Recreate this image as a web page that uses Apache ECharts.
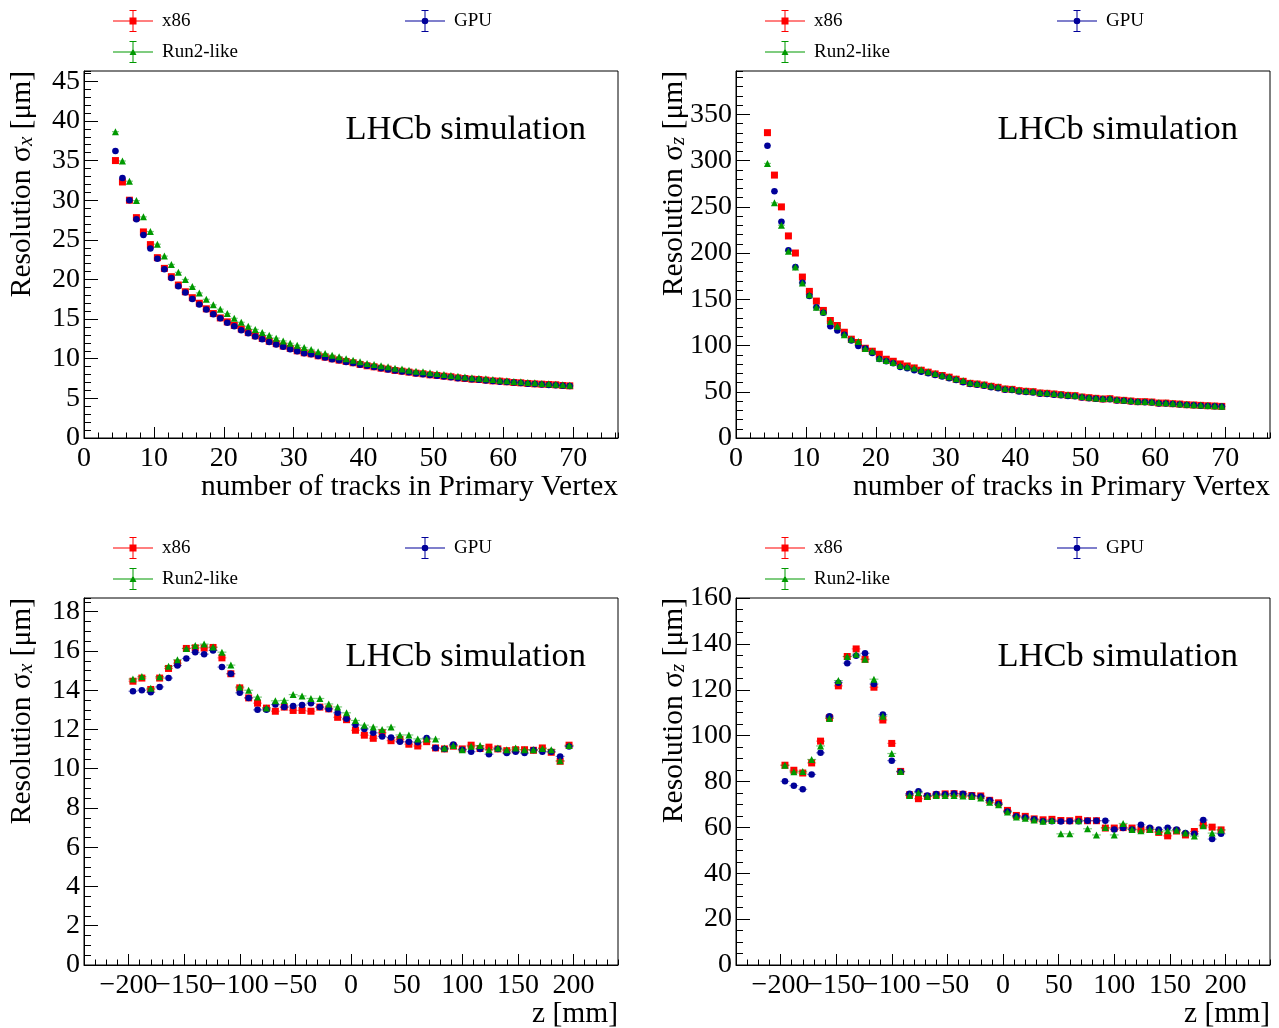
<!DOCTYPE html>
<html>
<head>
<meta charset="utf-8">
<script src="https://cdn.jsdelivr.net/npm/echarts@6/dist/echarts.min.js"></script>
<style>html,body{margin:0;padding:0;background:#fff}#chart{width:1279px;height:1028px}</style>
</head>
<body>
<div id="chart"></div>
<script>
// ---------- data ----------
const nTracks = [4.5,5.5,6.5,7.5,8.5,9.5,10.5,11.5,12.5,13.5,14.5,15.5,16.5,17.5,18.5,19.5,20.5,21.5,22.5,23.5,24.5,25.5,26.5,27.5,28.5,29.5,30.5,31.5,32.5,33.5,34.5,35.5,36.5,37.5,38.5,39.5,40.5,41.5,42.5,43.5,44.5,45.5,46.5,47.5,48.5,49.5,50.5,51.5,52.5,53.5,54.5,55.5,56.5,57.5,58.5,59.5,60.5,61.5,62.5,63.5,64.5,65.5,66.5,67.5,68.5,69.5];
const zBins = [-196,-188,-180,-172,-164,-156,-148,-140,-132,-124,-116,-108,-100,-92,-84,-76,-68,-60,-52,-44,-36,-28,-20,-12,-4,4,12,20,28,36,44,52,60,68,76,84,92,100,108,116,124,132,140,148,156,164,172,180,188,196];

// sigma_x vs number of tracks
const x86SigmaXvsN = [35.0,32.3,30.0,27.8,26.0,24.4,22.75,21.4,20.35,19.3,18.45,17.7,17.0,16.3,15.7,15.15,14.65,14.2,13.75,13.3,12.9,12.55,12.2,11.9,11.6,11.3,11.0,10.75,10.62,10.37,10.2,9.99,9.82,9.66,9.49,9.28,9.11,8.98,8.81,8.69,8.52,8.43,8.31,8.18,8.1,7.97,7.89,7.8,7.72,7.59,7.51,7.42,7.38,7.3,7.21,7.17,7.09,7.0,6.96,6.88,6.83,6.79,6.75,6.71,6.62,6.58];
const gpuSigmaXvsN = [36.2,32.8,30.0,27.6,25.6,23.9,22.6,21.3,20.2,19.15,18.35,17.55,16.85,16.2,15.6,15.1,14.55,14.1,13.6,13.2,12.8,12.45,12.1,11.8,11.5,11.2,10.95,10.7,10.55,10.35,10.15,9.95,9.8,9.6,9.45,9.25,9.1,8.95,8.8,8.65,8.5,8.4,8.3,8.15,8.05,7.95,7.85,7.75,7.65,7.55,7.5,7.4,7.35,7.25,7.2,7.1,7.05,7.0,6.95,6.85,6.8,6.75,6.7,6.65,6.6,6.55];
const run2SigmaXvsN = [38.65,34.95,32.4,29.95,27.9,26.05,24.45,22.95,21.9,20.9,20.0,19.1,18.3,17.5,16.8,16.25,15.7,15.1,14.6,14.1,13.7,13.3,12.95,12.6,12.25,11.95,11.7,11.42,11.17,10.88,10.66,10.45,10.24,10.0,9.82,9.61,9.4,9.28,9.11,8.98,8.81,8.69,8.56,8.43,8.35,8.22,8.14,8.01,7.89,7.8,7.68,7.59,7.55,7.47,7.38,7.3,7.21,7.13,7.09,7.0,6.96,6.88,6.83,6.79,6.71,6.67];

// sigma_z vs number of tracks
const x86SigmaZvsN = [330.3,284.4,250.0,218.6,200.1,174.1,158.6,148.1,138.0,127.1,121.7,114.4,106.9,103.3,97.1,93.9,90.6,85.2,83.0,80.1,77.9,75.8,73.3,71.2,69.3,67.6,65.8,63.6,61.3,59.1,58.4,57.3,55.9,54.8,53.0,52.6,51.2,50.5,50.1,48.7,48.3,47.6,46.9,46.1,45.8,44.3,43.6,42.9,42.2,42.5,41.1,40.7,40.0,39.3,39.3,38.9,37.8,37.8,37.1,36.7,36.0,35.7,35.3,34.9,34.6,34.2];
const gpuSigmaZvsN = [316.2,267.0,233.8,203.0,184.9,168.0,153.5,141.5,135.4,121.0,116.2,111.6,105.4,99.6,96.7,92.0,85.5,83.0,80.8,76.9,75.4,73.4,71.8,70.0,68.2,66.5,64.6,62.8,60.4,58.3,57.5,56.4,55.0,53.9,52.3,51.8,50.4,49.8,49.3,48.0,47.6,46.9,46.2,45.4,45.1,43.7,43.1,42.4,41.8,41.9,40.6,40.2,39.6,38.9,38.8,38.4,37.4,37.3,36.7,36.3,35.7,35.4,35.0,34.6,34.3,34.0];
const run2SigmaZvsN = [297.0,254.4,230.2,201.9,184.9,167.6,155.0,141.5,136.7,126.0,121.0,111.6,106.9,104.3,96.7,93.9,86.2,83.8,81.6,78.3,77.2,75.8,73.8,71.8,69.9,68.0,66.3,64.2,62.1,59.9,59.0,58.0,56.6,55.4,53.6,53.1,51.8,51.1,50.6,49.3,48.9,48.1,47.4,46.7,46.2,44.9,44.1,43.4,42.8,42.9,41.6,41.2,40.5,39.8,39.6,39.2,38.3,38.2,37.5,37.0,36.4,36.0,35.6,35.2,34.8,34.4];

// sigma_x vs z
const x86SigmaXvsZ = [14.46,14.62,14.04,14.62,15.11,15.38,16.13,16.16,16.15,16.18,15.65,14.84,14.12,13.61,13.34,13.09,12.93,13.14,12.97,12.97,12.93,13.14,13.05,12.62,12.5,11.96,11.71,11.55,11.83,11.43,11.49,11.25,11.16,11.38,11.06,11.01,11.15,11.01,11.2,11.03,11.1,11.01,10.92,10.97,10.97,10.94,11.06,10.84,10.38,11.2];
const gpuSigmaXvsZ = [13.95,14.0,13.9,14.17,14.62,15.26,15.62,15.93,15.84,16.03,15.18,14.84,13.87,13.61,13.0,13.0,13.27,13.14,13.2,13.25,13.34,13.14,13.05,12.85,12.55,12.24,12.03,11.83,11.64,11.59,11.38,11.37,11.35,11.57,11.06,11.01,11.23,10.97,10.87,11.01,10.74,11.01,10.8,10.87,10.8,10.96,10.87,10.87,10.63,11.13];
const run2SigmaXvsZ = [14.57,14.7,14.1,14.69,15.22,15.55,16.13,16.28,16.35,16.2,15.94,15.28,14.17,14.0,13.65,13.1,13.46,13.48,13.78,13.71,13.58,13.58,13.3,13.15,12.85,12.46,12.22,12.13,12.0,12.13,11.72,11.72,11.52,11.52,11.52,11.06,11.18,10.97,11.15,11.18,10.97,11.06,10.97,11.06,10.97,10.97,11.03,10.97,10.41,11.18];

// sigma_z vs z
const x86SigmaZvsZ = [87.1,84.9,83.7,88.1,97.6,107.8,121.7,134.5,137.8,133.3,121.1,106.8,96.6,84.4,74.2,72.5,73.5,74.2,74.6,74.7,74.4,73.9,73.7,71.8,70.7,67.4,65.2,64.8,63.7,63.3,63.5,63.0,62.9,63.5,62.9,62.9,59.7,59.7,59.9,59.7,59.1,59.1,57.8,56.3,58.4,56.7,58.2,61.0,60.1,58.9];
const gpuSigmaZvsZ = [80.1,78.2,76.6,83.1,92.5,108.5,123.1,131.6,134.8,135.9,122.5,109.2,89.1,84.2,74.7,75.7,73.9,74.6,74.4,74.8,74.7,73.9,73.5,71.8,70.2,66.9,64.9,64.3,63.5,62.7,62.7,62.6,62.7,62.7,62.9,62.9,62.9,59.1,59.7,59.1,61.1,59.8,59.1,59.8,59.1,57.5,57.2,63.2,54.9,57.2];
const run2SigmaZvsZ = [87.1,84.2,84.4,89.6,95.5,107.5,124.0,134.5,135.5,133.3,124.6,108.5,92.2,84.4,73.9,75.1,73.5,73.9,73.9,73.9,73.7,73.5,72.8,71.0,69.9,66.7,64.5,64.0,63.2,62.7,63.0,57.2,57.2,62.9,59.4,56.7,59.9,56.7,61.7,59.1,58.5,59.1,58.2,58.5,58.8,57.6,56.2,60.7,57.5,58.9];

const seriesNames = ['x86', 'GPU', 'Run2-like'];
const binHalfWidthTracks = 0.5;
const binHalfWidthZ = 4;

// ---------- style ----------
const FONT = '"Liberation Serif", "Times New Roman", Times, serif';
const markerColors = ['#ff0000', '#000099', '#009900'];
const barColors = ['rgba(255,0,0,0.5)', 'rgba(0,0,153,0.5)', 'rgba(0,153,0,0.5)'];
const markerSymbols = ['rect', 'circle', 'triangle'];
const markerSizes = [7, 6.5, 7];
const iconBase = 'M0,10.5H40V11.5H0Z M19.5,0H20.5V22H19.5Z M16.5,0H23.5V1H16.5Z M16.5,21H23.5V22H16.5Z ';
const legendIcons = [
  'path://' + iconBase + 'M16.5,7.5H23.5V14.5H16.5Z',
  'path://' + iconBase + 'M23.3,11A3.3,3.3,0,1,1,16.7,11A3.3,3.3,0,1,1,23.3,11Z',
  'path://' + iconBase + 'M20,7.5L23.5,14L16.5,14Z'
];

const panels = [
  {left: 84, top: 71, x: nTracks, ys: [x86SigmaXvsN, gpuSigmaXvsN, run2SigmaXvsN], half: binHalfWidthTracks,
   xMin: 0, xMax: 76.4, xMajor: 10, xMinor: 2, yMax: 46.3, yMajor: 5, yMinor: 1, sub: 'x', xName: 'number of tracks in Primary Vertex'},
  {left: 736, top: 71, x: nTracks, ys: [x86SigmaZvsN, gpuSigmaZvsN, run2SigmaZvsN], half: binHalfWidthTracks,
   xMin: 0, xMax: 76.4, xMajor: 10, xMinor: 2, yMax: 397, yMajor: 50, yMinor: 10, sub: 'z', xName: 'number of tracks in Primary Vertex'},
  {left: 84, top: 598, x: zBins, ys: [x86SigmaXvsZ, gpuSigmaXvsZ, run2SigmaXvsZ], half: binHalfWidthZ,
   xMin: -240, xMax: 240, xMajor: null, xMinor: 10, yMax: 18.7, yMajor: 2, yMinor: 0.5, sub: 'x', xName: 'z [mm]'},
  {left: 736, top: 598, x: zBins, ys: [x86SigmaZvsZ, gpuSigmaZvsZ, run2SigmaZvsZ], half: binHalfWidthZ,
   xMin: -240, xMax: 240, xMajor: null, xMinor: 10, yMax: 160, yMajor: 20, yMinor: 5, sub: 'z', xName: 'z [mm]'}
];

const W = 534, H = 367;
const grid = [], xAxis = [], yAxis = [], series = [], legend = [], title = [];
const minusFmt = v => String(v).replace('-', '\u2212');

panels.forEach((p, pi) => {
  grid.push({left: p.left, top: p.top, width: W, height: H, show: true, borderColor: '#000', borderWidth: 1,
             backgroundColor: 'transparent', containLabel: false, outerBoundsMode: 'none'});
  const mainX = {
    type: 'value', gridIndex: pi, position: 'bottom', min: p.xMin, max: p.xMax,
    axisLine: {show: true, onZero: false, lineStyle: {color: '#000', width: 1}},
    axisTick: {show: true, inside: true, length: 11, lineStyle: {color: '#000', width: 1}},
    axisLabel: {show: true, color: '#000', fontFamily: FONT, fontSize: 28, margin: 7,
                showMinLabel: p.xMin === 0, showMaxLabel: false, hideOverlap: false, formatter: minusFmt},
    splitLine: {show: false}, minorTick: {show: false},
    name: p.xName, nameLocation: 'end', nameGap: 0, nameMoveOverlap: false,
    nameTextStyle: {color: '#000', fontFamily: FONT, fontSize: 29.5, align: 'right', verticalAlign: 'top', padding: [34, 0, 0, 0]}
  };
  if (p.xMajor) mainX.interval = p.xMajor; else mainX.splitNumber = 10;
  xAxis.push(mainX);
  xAxis.push({
    type: 'value', gridIndex: pi, position: 'bottom', min: p.xMin, max: p.xMax, interval: p.xMinor,
    axisLine: {show: false, onZero: false}, axisLabel: {show: false}, splitLine: {show: false},
    axisTick: {show: true, inside: true, length: 5.5, lineStyle: {color: '#000', width: 1}}
  });
  yAxis.push({
    type: 'value', gridIndex: pi, position: 'left', min: 0, max: p.yMax, interval: p.yMajor,
    axisLine: {show: true, onZero: false, lineStyle: {color: '#000', width: 1}},
    axisTick: {show: true, inside: true, length: 14, lineStyle: {color: '#000', width: 1}},
    axisLabel: {show: true, color: '#000', fontFamily: FONT, fontSize: 28, margin: 4, padding: [4, 0, 0, 0],
                showMinLabel: true, showMaxLabel: p.yMax % p.yMajor === 0, hideOverlap: false},
    splitLine: {show: false},
    name: 'Resolution \u03c3{s|' + p.sub + '} [\u03bcm]', nameLocation: 'end', nameGap: 0, nameRotate: 90, nameMoveOverlap: false,
    nameTextStyle: {color: '#000', fontFamily: FONT, fontSize: 29.5, align: 'right', verticalAlign: 'bottom', padding: [0, 0, 47, 0],
      rich: {s: {color: '#000', fontFamily: FONT, fontSize: 21, fontStyle: 'italic', verticalAlign: 'bottom'}}}
  });
  yAxis.push({
    type: 'value', gridIndex: pi, position: 'left', min: 0, max: p.yMax, interval: p.yMinor,
    axisLine: {show: false, onZero: false}, axisLabel: {show: false}, splitLine: {show: false},
    axisTick: {show: true, inside: true, length: 7, lineStyle: {color: '#000', width: 1}}
  });

  p.ys.forEach((vals, si) => {
    const pts = p.x.map((xv, i) => [xv, vals[i]]);
    const half = p.half;
    series.push({
      type: 'custom', name: seriesNames[si] + ' bins', xAxisIndex: 2 * pi, yAxisIndex: 2 * pi,
      data: pts, z: 2 + 2 * si, silent: true, clip: true,
      renderItem: (params, api) => {
        const xv = api.value(0), yv = api.value(1);
        const a = api.coord([xv - half, yv]);
        const b = api.coord([xv + half, yv]);
        return {type: 'line', shape: {x1: a[0], y1: a[1], x2: b[0], y2: b[1]},
                style: {stroke: barColors[si], lineWidth: 1.2}};
      }
    });
    series.push({
      type: 'scatter', name: seriesNames[si], xAxisIndex: 2 * pi, yAxisIndex: 2 * pi,
      data: pts, symbol: markerSymbols[si], symbolSize: markerSizes[si], z: 3 + 2 * si,
      itemStyle: {color: markerColors[si], opacity: 1}, silent: true
    });
  });

  const legendRows = [[0, p.left + 29, p.top - 61], [1, p.left + 321, p.top - 61], [2, p.left + 29, p.top - 30]];
  legendRows.forEach(([si, lx, ly]) => {
    legend.push({
      data: [{name: seriesNames[si], icon: legendIcons[si]}],
      left: lx, top: ly, padding: 0, itemWidth: 40, itemHeight: 22, itemGap: 0, selectedMode: false,
      textStyle: {color: '#000', fontFamily: FONT, fontSize: 19, padding: [0, 0, 0, 4]}
    });
  });

  title.push({
    text: 'LHCb simulation', right: 1279 - (p.left + 502), top: p.top + 42, padding: 0,
    textStyle: {color: '#000', fontFamily: FONT, fontSize: 34.5, fontWeight: 'normal', lineHeight: 34}
  });
});

const chart = echarts.init(document.getElementById('chart'), null, {renderer: 'canvas'});
chart.setOption({
  animation: false,
  backgroundColor: '#ffffff',
  title, legend, grid, xAxis, yAxis, series
});
</script>
</body>
</html>
